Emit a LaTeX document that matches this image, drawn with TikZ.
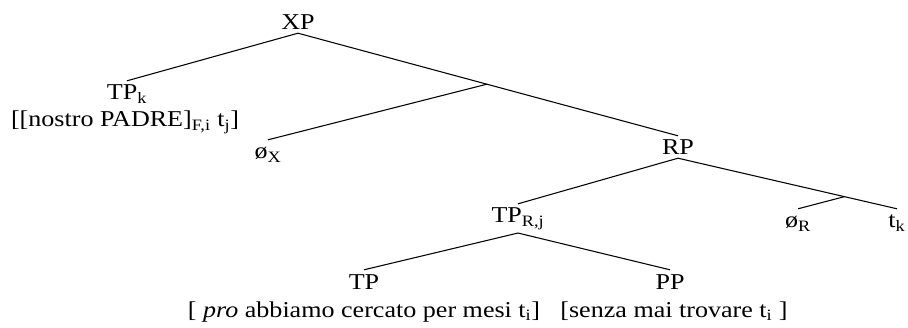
\documentclass[tikz,border=0pt]{standalone}
\usepackage{fontspec}
\setmainfont[FakeStretch=1.15]{Liberation Serif}
\usetikzlibrary{calc}
\begin{document}
\begin{tikzpicture}[x=0.75pt, y=-0.75pt, line width=0.8pt,
	cat/.style={anchor=base, inner sep=2pt, text height=12pt},
	words/.style={anchor=base, inner sep=0pt}]
	\useasboundingbox (0,0) rectangle (908,328);
	\fontsize{17}{20}\selectfont
	  \node[cat] (xp) at (298,30) {XP};
	  \node[cat] (tpk) at (127,100) {TP\textsubscript{k}};
	  \node[words] (tpkwords) at (125,127) {[[nostro PADRE]\textsubscript{F,i} t\textsubscript{j}]};
	  \node[cat] (ox) at (268,159) {ø\textsubscript{X}};
	  \node[cat] (rp) at (678,155) {RP};
	  \node[cat] (tprj) at (518,223) {TP\textsubscript{R,j}};
	  \node[cat] (or) at (798,228) {ø\textsubscript{R}};
	  \node[cat] (tk) at (897,228) {t\textsubscript{k}};
	  \node[cat] (tp) at (364,289) {TP};
	  \node[cat] (pp) at (670,289) {PP};
	  \node[words] (tpwords) at (364,317) {[ \textit{pro} abbiamo cercato per mesi t\textsubscript{i}]};
	  \node[words] (ppwords) at (674,317) {[senza mai trovare t\textsubscript{i} ]};
	  
	  \coordinate (xbar) at ($(xp.south)!0.497!(rp.north)$);
	  \coordinate (rbar) at ($(rp.south)!0.76!(tk.north)$);
	  
	  \draw (xp.south) -- (tpk.north);
	  \draw (xp.south) -- (xbar) -- (rp.north);
	  \draw (xbar) -- (ox.north);
	  \draw (rp.south) -- (tprj.north);
	  \draw (rp.south) -- (rbar) -- (tk.north);
	  \draw (rbar) -- (or.north);
	  \draw (tprj.south) -- (tp.north);
	  \draw (tprj.south) -- (pp.north);
	\end{tikzpicture}
\end{document}
